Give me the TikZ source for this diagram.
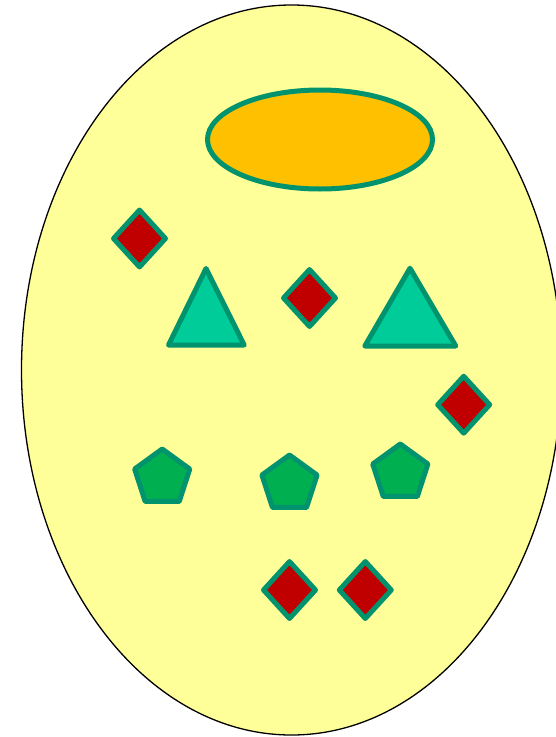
\documentclass[tikz,border=0pt]{standalone}
\usepackage{tikz}
\usetikzlibrary{shapes.geometric}
\definecolor{oyellow}{HTML}{FFFF99}
\definecolor{oedge}{HTML}{00936E}
\definecolor{oamber}{HTML}{FFC000}
\definecolor{oruby}{HTML}{C00000}
\definecolor{omint}{HTML}{00CC99}
\definecolor{oleaf}{HTML}{00B050}

\begin{document}
\begin{tikzpicture}[
  x=1pt,y=-1pt,
  gem/.style={diamond,draw=oedge,fill=oruby,line width=5pt,line join=round,
              inner sep=0pt,minimum width=54pt,minimum height=59pt},
  pent/.style={regular polygon,regular polygon sides=5,draw=oedge,fill=oleaf,
               line width=5pt,line join=round,inner sep=0pt,minimum size=58pt},
  tri/.style={draw=oedge,fill=omint,line width=5pt,line join=round}
]
\useasboundingbox (0,0) rectangle (555,737);

\node[ellipse,draw=black,fill=oyellow,line width=1.3pt,inner sep=0pt,
      minimum width=540pt,minimum height=730pt] (egg) at (291.5,370) {};
\node[ellipse,draw=oedge,fill=oamber,line width=5pt,inner sep=0pt,
      minimum width=225pt,minimum height=99pt] (yolk) at (320,139.5) {};

% red diamonds
\foreach \n/\x/\y in {d1/139.5/238.5, d2/309.5/298, d3/463.7/404.7,
                      d4/289.5/590, d5/365.3/590}
  {\node[gem] (\n) at (\x,\y) {};}

% triangles
\draw[tri] (206,268.5) -- (244.2,345) -- (168.5,345) -- cycle;
\draw[tri] (410,268.2) -- (455.8,346) -- (364.8,346) -- cycle;

% pentagons
\node[pent] (p1) at (162.2,478) {};
\node[pent] (p2) at (289.5,484) {};
\node[pent] (p3) at (400.3,473) {};
\end{tikzpicture}
\end{document}
